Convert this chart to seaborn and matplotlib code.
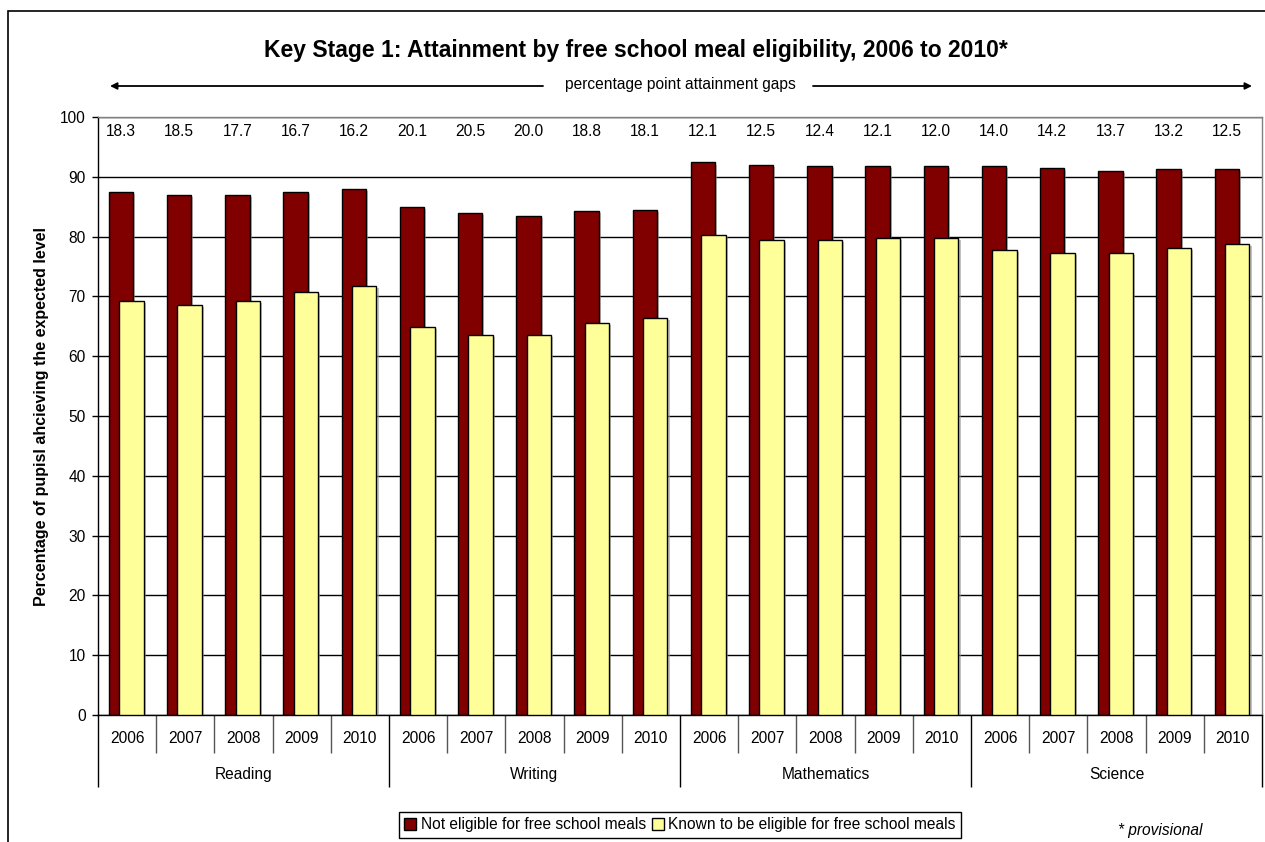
import numpy as np
import pandas as pd
import matplotlib
matplotlib.use("Agg")
import matplotlib.pyplot as plt
import matplotlib.patheffects as pe
from matplotlib.patches import Patch, Rectangle
import seaborn as sns

subjects = ['Reading', 'Writing', 'Mathematics', 'Science']
years = ['2006', '2007', '2008', '2009', '2010']
not_eligible = [87.5, 87.0, 87.0, 87.5, 88.0,
                85.0, 84.0, 83.5, 84.3, 84.5,
                92.4, 92.0, 91.8, 91.8, 91.8,
                91.8, 91.5, 91.0, 91.3, 91.3]
fsm_eligible = [69.2, 68.5, 69.3, 70.8, 71.8,
                64.9, 63.5, 63.5, 65.5, 66.4,
                80.3, 79.5, 79.4, 79.7, 79.8,
                77.8, 77.3, 77.3, 78.1, 78.8]
gap_labels = ['18.3', '18.5', '17.7', '16.7', '16.2',
              '20.1', '20.5', '20.0', '18.8', '18.1',
              '12.1', '12.5', '12.4', '12.1', '12.0',
              '14.0', '14.2', '13.7', '13.2', '12.5']

dark_red = '#800000'
pale_yellow = '#FFFF99'
fs = 11.2

sns.set_style("white")
plt.rcParams['font.family'] = ['Liberation Sans', 'DejaVu Sans']
plt.rcParams['text.color'] = 'black'
plt.rcParams['axes.labelcolor'] = 'black'
plt.rcParams['xtick.color'] = 'black'
plt.rcParams['ytick.color'] = 'black'

n = len(not_eligible)
pos = np.arange(n)
df = pd.DataFrame({
    'pos': pos,
    'not_eligible': not_eligible,
    'fsm': fsm_eligible,
})
df['pos_ne'] = df['pos'] - 0.105
df['pos_fsm'] = df['pos'] + 0.075

fig = plt.figure(figsize=(12.65, 8.42), dpi=100)
ax = fig.add_axes([98 / 1265, 1 - 715 / 842, (1262 - 98) / 1265, (715 - 117) / 842])

sns.barplot(data=df, x='pos_ne', y='not_eligible', native_scale=True, width=0.42,
            color=dark_red, saturation=1, edgecolor='black', linewidth=1, ax=ax, zorder=2)
sns.barplot(data=df, x='pos_fsm', y='fsm', native_scale=True, width=0.42,
            color=pale_yellow, saturation=1, edgecolor='black', linewidth=1, ax=ax, zorder=3)

for p in ax.patches:
    p.set_path_effects([pe.SimplePatchShadow(offset=(1.5, -1.5), shadow_rgbFace='#999999', alpha=0.6),
                        pe.Normal()])

ax.set_xlim(-0.5, n - 0.5)
ax.set_ylim(0, 100)
ax.set_yticks(range(0, 101, 10))
ax.tick_params(axis='y', labelsize=fs, length=4, width=1, color='black', labelcolor='black',
               direction='out', pad=5, left=True)
ax.yaxis.grid(True, color='black', linewidth=1)
ax.set_axisbelow(True)
ax.set_xlabel('')
ax.set_ylabel('Percentage of pupisl ahcieving the expected level', fontsize=11.5,
              fontweight='bold', labelpad=8, color='black')

for side in ['top', 'right']:
    ax.spines[side].set_color('#808080')
    ax.spines[side].set_linewidth(1)
for side in ['left', 'bottom']:
    ax.spines[side].set_color('black')
    ax.spines[side].set_linewidth(1)

# two-level category axis: separators as ticks, labels as text
ax.set_xticks([i + 0.5 for i in range(-1, n) if (i + 1) % 5 != 0], minor=True)
ax.set_xticks([i - 0.5 for i in range(0, n + 1, 5)])
ax.set_xticklabels([])
ax.tick_params(axis='x', which='minor', length=27, width=1, color='#555555', direction='out', bottom=True)
ax.tick_params(axis='x', which='major', length=52, width=1, color='black', direction='out', bottom=True)

trans = ax.get_xaxis_transform()
for i in range(n):
    ax.text(i, -0.0385, years[i % 5], transform=trans, ha='center', va='center', fontsize=fs)
for k, s in enumerate(subjects):
    ax.text(k * 5 + 2, -0.100, s, transform=trans, ha='center', va='center', fontsize=fs)

# gap labels above the dark bars
for i in range(n):
    ax.text(df['pos_ne'][i], 97.5, gap_labels[i], ha='center', va='center', fontsize=fs)

# title and arrows
fig.text(636 / 1265, 1 - 50 / 842, 'Key Stage 1: Attainment by free school meal eligibility, 2006 to 2010*',
         ha='center', va='center', fontsize=16.5, fontweight='bold')
fig.text(680 / 1265, 1 - 84 / 842, 'percentage point attainment gaps', ha='center', va='center', fontsize=fs)
arrow = dict(arrowstyle='-|>', color='black', lw=1.3, mutation_scale=10, shrinkA=0, shrinkB=0)
ax.annotate('', xy=(110, 842 - 86), xytext=(543, 842 - 86), xycoords='figure pixels',
            textcoords='figure pixels', arrowprops=arrow)
ax.annotate('', xy=(1252, 842 - 86), xytext=(813, 842 - 86), xycoords='figure pixels',
            textcoords='figure pixels', arrowprops=arrow)

# legend
handles = [Patch(facecolor=dark_red, edgecolor='black', label='Not eligible for free school meals'),
           Patch(facecolor=pale_yellow, edgecolor='black', label='Known to be eligible for free school meals')]
fig.legend(handles=handles, loc='center', bbox_to_anchor=(680 / 1265, 1 - 825 / 842), ncol=2,
           fontsize=fs, frameon=True, fancybox=False, edgecolor='black', framealpha=1,
           handlelength=0.75, handleheight=0.75, handletextpad=0.3, columnspacing=0.4,
           borderpad=0.35)

fig.text(1160 / 1265, 1 - 831 / 842, '* provisional', ha='center', va='center', fontsize=fs, style='italic')

# chart area border
fig.add_artist(Rectangle((8 / 1265, -0.05), 1.1, 1 - 11 / 842 + 0.05, transform=fig.transFigure,
                         fill=False, edgecolor='black', linewidth=1.2, clip_on=False))

fig.savefig('out.png', dpi=100)
plt.close(fig)
